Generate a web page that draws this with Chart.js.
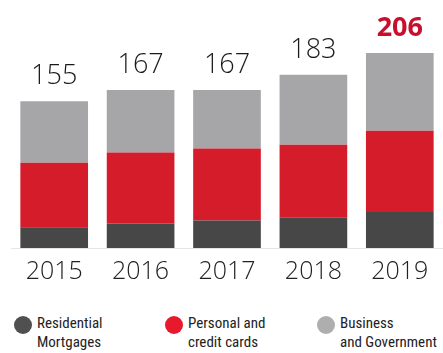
<!DOCTYPE html>
<html>
<head>
<meta charset="utf-8">
<script src="https://cdn.jsdelivr.net/npm/chart.js@4/dist/chart.umd.min.js"></script>
<style>
  html, body { margin: 0; padding: 0; background: #fff; }
  #wrap { position: relative; width: 443px; height: 353px; overflow: hidden; }
  #chartBox { position: absolute; left: 0; top: 0; width: 443px; height: 290px; }
  .legend-item { position: absolute; top: 314px; }
  .legend-item .dot { position: absolute; left: 0; top: 2px; width: 18px; height: 18px; border-radius: 50%; }
  .legend-item .txt {
    position: absolute; left: 23px; top: 0; white-space: nowrap;
    font-family: "Liberation Sans Narrow", "Roboto", sans-serif;
    font-stretch: condensed; font-size: 15px; line-height: 19px; color: #222;
  }
</style>
</head>
<body>
<div id="wrap">
  <div id="chartBox"><canvas id="loanChart"></canvas></div>
  <div id="legend"></div>
</div>
<script>
// ===== DATA =====
const years = ['2015', '2016', '2017', '2018', '2019'];
const mortgages = [22, 26, 29, 32, 38];
const personalCards = [68, 75, 76, 77, 86];
const businessGov = [65, 66, 62, 74, 82];
const seriesNames = [['Residential', 'Mortgages'], ['Personal and', 'credit cards'], ['Business', 'and Government']];
const seriesColors = ['#474747', '#d51c2a', '#a6a6a9'];
const legendColors = ['#505050', '#e8192c', '#aeaeae'];

// totals printed above each stack
const totals = years.map(function(_, i) {
    return mortgages[i] + personalCards[i] + businessGov[i];
});

// ===== LEGEND =====
const legendX = [14, 165, 317];
const legendEl = document.getElementById('legend');
seriesNames.forEach(function(lines, i) {
    const item = document.createElement('div');
    item.className = 'legend-item';
    item.style.left = legendX[i] + 'px';
    item.innerHTML = '<span class="dot" style="background:' + legendColors[i] + '"></span>' +
        '<span class="txt">' + lines.join('<br>') + '</span>';
    legendEl.appendChild(item);
});

// ===== TOTAL LABELS PLUGIN =====
const totalLabels = {
    id: 'totalLabels',
    afterDatasetsDraw: function(chart) {
        const ctx = chart.ctx;
        const topMeta = chart.getDatasetMeta(chart.data.datasets.length - 1);
        ctx.save();
        ctx.textAlign = 'center';
        ctx.textBaseline = 'alphabetic';
        topMeta.data.forEach(function(bar, i) {
            const last = i === totals.length - 1;
            ctx.font = (last ? 'bold ' : '300 ') + '27px "Open Sans", sans-serif';
            ctx.fillStyle = last ? '#c8102e' : '#1a1a1a';
            ctx.fillText(String(totals[i]), bar.x, bar.y - 17);
        });
        ctx.restore();
    }
};

// ===== CHART =====
new Chart(document.getElementById('loanChart'), {
    type: 'bar',
    data: {
        labels: years,
        datasets: [
            { label: seriesNames[0].join(' '), data: mortgages, backgroundColor: seriesColors[0] },
            { label: seriesNames[1].join(' '), data: personalCards, backgroundColor: seriesColors[1] },
            { label: seriesNames[2].join(' '), data: businessGov, backgroundColor: seriesColors[2] }
        ]
    },
    options: {
        responsive: true,
        maintainAspectRatio: false,
        animation: false,
        barPercentage: 0.88,
        categoryPercentage: 0.89,
        layout: { padding: { left: 11, right: 0, top: 0, bottom: 0 } },
        plugins: {
            legend: { display: false },
            tooltip: { enabled: false }
        },
        scales: {
            x: {
                stacked: true,
                grid: { display: false },
                border: { display: true, color: '#e6e6e6' },
                ticks: {
                    padding: 1,
                    color: '#222',
                    font: { family: '"Open Sans", sans-serif', size: 25, weight: '300' }
                },
                afterFit: function(axis) { axis.height = 42; }
            },
            y: {
                stacked: true,
                display: false,
                min: 0,
                max: 262
            }
        }
    },
    plugins: [totalLabels]
});
</script>
</body>
</html>
